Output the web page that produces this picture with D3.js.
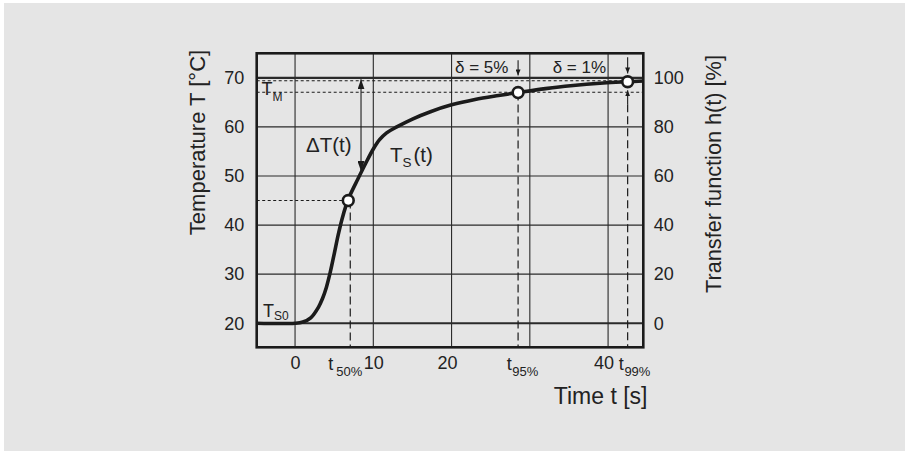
<!DOCTYPE html>
<html><head><meta charset="utf-8">
<script src="https://cdn.jsdelivr.net/npm/d3@7"></script>
<style>
html,body{margin:0;padding:0;background:#fff;}
svg{display:block;font-family:"Liberation Sans",Arial,Helvetica,sans-serif;}
</style>
</head><body>
<svg id="chart" width="909" height="454"></svg>
<script>
// ---- data ----
const timeS = [-4.9, 0, 1, 2, 3, 3.5, 4, 4.5, 5, 5.5, 6, 6.5, 7, 8, 9, 10, 10.8, 11.7, 13, 15, 17.3, 20, 23, 26, 28.5, 32, 35.2, 39.4, 42.5, 44.5];
const tempC = [20, 20, 20.25, 21.1, 23.3, 25.0, 27.3, 30.4, 34.1, 37.9, 41.2, 43.9, 46.0, 49.3, 52.5, 55.5, 57.4, 58.8, 60.0, 61.6, 63.1, 64.5, 65.6, 66.4, 67.0, 67.8, 68.4, 68.95, 69.2, 69.35];
const tempTicks = [20, 30, 40, 50, 60, 70];
const transferTicks = [0, 20, 40, 60, 80, 100];
const timeTicks = [0, 10, 20, 40];
const timeGrid = [0, 10, 20, 30, 40];
const markerTime = [6.8, 28.5, 42.5];
const markerTemp = [45, 67.0, 69.2];
const markerSub = ["50%", "95%", "99%"];
const levelTemps = [69.4, 67.05];     // dotted 99 % / 95 % levels
const deltaLabels = ["δ = 5%", "δ = 1%"];
const T0 = 20, TM = 70;

const svg = d3.select("#chart");
const W = 909, H = 454;
svg.append("rect").attr("x", 4).attr("y", 3).attr("width", W - 8).attr("height", H - 6).attr("fill", "#e5e5e5");

const L = 256.7, R = 643.3, TOP = 53.3, BOT = 347.3;
const x = d3.scaleLinear().domain([-4.9, 44.5]).range([L, R]);
const y = d3.scaleLinear().domain([15.1, 75]).range([BOT, TOP]);
const yR = d3.scaleLinear().domain([(15.1 - T0) / (TM - T0) * 100, (75 - T0) / (TM - T0) * 100]).range([BOT, TOP]);

const ink = "#1b1b1b";
const defs = svg.append("defs");
function mk(id, w, l) {
  defs.append("marker").attr("id", id).attr("viewBox", `0 ${-w/2} ${l} ${w}`)
    .attr("refX", l).attr("refY", 0).attr("markerWidth", l).attr("markerHeight", w)
    .attr("markerUnits", "userSpaceOnUse").attr("orient", "auto")
    .append("path").attr("d", `M0,${-w/2}L${l},0L0,${w/2}Z`).attr("fill", ink);
}
mk("big", 7, 10);
mk("small", 5, 6);
defs.append("marker").attr("id", "bigs").attr("viewBox", "0 -3.5 10 7")
  .attr("refX", 0).attr("refY", 0).attr("markerWidth", 10).attr("markerHeight", 7)
  .attr("markerUnits", "userSpaceOnUse").attr("orient", "auto")
  .append("path").attr("d", "M10,-3.5L0,0L10,3.5Z").attr("fill", ink);
defs.append("clipPath").attr("id", "plot").append("rect").attr("x", L).attr("y", TOP).attr("width", R - L).attr("height", BOT - TOP);

const g = svg.append("g");
// grid
g.selectAll(".vg").data(timeGrid).join("line")
  .attr("x1", d => x(d)).attr("x2", d => x(d)).attr("y1", TOP).attr("y2", BOT)
  .attr("stroke", "#2a2a2a").attr("stroke-width", 1.1);
g.selectAll(".hg").data(tempTicks).join("line")
  .attr("x1", L).attr("x2", R).attr("y1", d => y(d)).attr("y2", d => y(d))
  .attr("stroke", "#2a2a2a").attr("stroke-width", d => (d === T0 || d === TM) ? 2.2 : 1.1);

// dotted level lines
g.selectAll(".lv").data(levelTemps).join("line")
  .attr("x1", L).attr("x2", R).attr("y1", d => y(d)).attr("y2", d => y(d))
  .attr("stroke", ink).attr("stroke-width", 1.1).attr("stroke-dasharray", "3,2.5");
// dotted to 50 % point
g.append("line").attr("x1", L).attr("x2", x(markerTime[0])).attr("y1", y(markerTemp[0])).attr("y2", y(markerTemp[0]))
  .attr("stroke", ink).attr("stroke-width", 1.1).attr("stroke-dasharray", "3,2.5");

// dashed verticals
g.append("line").attr("x1", x(markerTime[0]) + 2).attr("x2", x(markerTime[0]) + 2).attr("y1", y(markerTemp[0])).attr("y2", BOT)
  .attr("stroke", ink).attr("stroke-width", 1.2).attr("stroke-dasharray", "8,4");
g.append("line").attr("x1", x(markerTime[1])).attr("x2", x(markerTime[1])).attr("y1", y(markerTemp[1])).attr("y2", BOT)
  .attr("stroke", ink).attr("stroke-width", 1.2).attr("stroke-dasharray", "8,4");
g.append("line").attr("x1", x(markerTime[2])).attr("x2", x(markerTime[2])).attr("y1", y(levelTemps[1]) + 12).attr("y2", BOT)
  .attr("stroke", ink).attr("stroke-width", 1.2).attr("stroke-dasharray", "8,4");
g.append("line").attr("x1", x(markerTime[2])).attr("x2", x(markerTime[2])).attr("y1", y(levelTemps[1]) + 12).attr("y2", y(levelTemps[1]) - 2)
  .attr("stroke", ink).attr("stroke-width", 1.1).attr("marker-end", "url(#small)");

// small down arrows above delta points
[markerTime[1], markerTime[2]].forEach((t, i) => {
  g.append("line").attr("x1", x(t)).attr("x2", x(t)).attr("y1", y(73.6 + i * 0.6)).attr("y2", y(70.5 + i * 0.4))
    .attr("stroke", ink).attr("stroke-width", 1.1).attr("marker-end", "url(#small)");
});

// delta T double arrow
const tArrow = 8.43;
g.append("line").attr("x1", x(tArrow)).attr("x2", x(tArrow)).attr("y1", y(51.0)).attr("y2", y(69.7))
  .attr("stroke", ink).attr("stroke-width", 1.1).attr("marker-end", "url(#big)").attr("marker-start", "url(#bigs)");

// curve
const pts = timeS.map((t, i) => [t, tempC[i]]);
g.append("path").datum(pts).attr("clip-path", "url(#plot)")
  .attr("d", d3.line().x(d => x(d[0])).y(d => y(d[1])).curve(d3.curveCatmullRom.alpha(0.5)))
  .attr("fill", "none").attr("stroke", ink).attr("stroke-width", 3.6).attr("stroke-linejoin", "round");

// markers
g.selectAll(".mk").data(markerTime).join("circle")
  .attr("cx", d => x(d)).attr("cy", (d, i) => y(markerTemp[i])).attr("r", 5.4)
  .attr("fill", "#fff").attr("stroke", ink).attr("stroke-width", 2.6);

// frame
g.append("rect").attr("x", L).attr("y", TOP).attr("width", R - L).attr("height", BOT - TOP)
  .attr("fill", "none").attr("stroke", ink).attr("stroke-width", 2.6);

// axes
const txt = "#222";
function styleAx(sel) {
  sel.select(".domain").remove();
  sel.selectAll("text").attr("font-size", 18).attr("fill", txt).attr("font-family", "Liberation Sans, Arial, sans-serif");
}
svg.append("g").attr("transform", `translate(${L},0)`)
  .call(d3.axisLeft(y).tickValues(tempTicks).tickSize(0).tickPadding(12.5)).call(styleAx);
svg.append("g").attr("transform", `translate(${R},0)`)
  .call(d3.axisRight(yR).tickValues(transferTicks).tickSize(0).tickPadding(10.5)).call(styleAx);
const xb = svg.append("g").attr("transform", `translate(0,${BOT})`)
  .call(d3.axisBottom(x).tickValues(timeTicks).tickSize(0).tickPadding(9)).call(styleAx);
xb.selectAll("text").attr("dx", d => (d >= 20 ? -4.5 : 0));

// time-point labels
const tOff = [-3, 4.5, 7];
markerTime.forEach((t, i) => {
  const tx = svg.append("text").attr("x", x(t) + tOff[i]).attr("y", 370).attr("text-anchor", "middle")
    .attr("fill", txt).attr("font-size", 18);
  tx.append("tspan").text("t");
  tx.append("tspan").attr("font-size", 13).attr("dy", 6).attr("dx", i === 0 ? 3 : 0.5).text(markerSub[i]);
});

// axis titles
svg.append("text").attr("x", 647.5).attr("y", 404).attr("text-anchor", "end")
  .attr("font-size", 23).attr("fill", txt).text("Time t [s]");
svg.append("text").attr("transform", "translate(205,142.5) rotate(-90)").attr("text-anchor", "middle")
  .attr("font-size", 22).attr("fill", txt).text("Temperature T [°C]");
svg.append("text").attr("transform", "translate(721,174) rotate(-90)").attr("text-anchor", "middle")
  .attr("font-size", 21.7).attr("fill", txt).text("Transfer function h(t) [%]");

// annotations
svg.append("text").attr("x", 306).attr("y", 152.3).attr("font-size", 20.5).attr("fill", txt).text("ΔT(t)");
const ts = svg.append("text").attr("x", 390).attr("y", 161.7).attr("font-size", 20.5).attr("fill", txt);
ts.append("tspan").text("T");
ts.append("tspan").attr("font-size", 13.5).attr("dy", 5.5).text("S");
ts.append("tspan").attr("dy", -5.5).attr("dx", 2).text("(t)");
const tm = svg.append("text").attr("x", 261.5).attr("y", 95).attr("font-size", 18).attr("fill", txt);
tm.append("tspan").text("T");
tm.append("tspan").attr("font-size", 12).attr("dy", 5.5).text("M");
const t0 = svg.append("text").attr("x", 263).attr("y", 316.7).attr("font-size", 18).attr("fill", txt);
t0.append("tspan").text("T");
t0.append("tspan").attr("font-size", 12).attr("dy", 3.5).text("S0");
svg.append("text").attr("x", 455).attr("y", 73.3).attr("font-size", 17).attr("fill", txt).text(deltaLabels[0]);
svg.append("text").attr("x", 552.7).attr("y", 73).attr("font-size", 17).attr("fill", txt).text(deltaLabels[1]);
</script>
</body></html>
